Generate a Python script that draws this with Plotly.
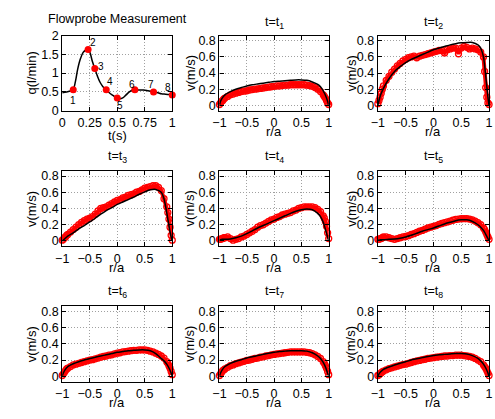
import plotly.graph_objects as go

W, H = 495, 419
FONT = "Liberation Sans, Arial, Helvetica, sans-serif"

# ---------------- data ----------------
flow_t = [0, 0.04, 0.08, 0.10, 0.12, 0.14, 0.165, 0.19, 0.215, 0.237, 0.255, 0.275, 0.296, 0.32,
          0.345, 0.37, 0.40, 0.43, 0.46, 0.49, 0.52, 0.55, 0.58, 0.61, 0.64, 0.66, 0.70, 0.74,
          0.78, 0.83, 0.87, 0.90, 0.94, 0.97, 1.0]
flow_q = [0.48, 0.50, 0.53, 0.56, 0.78, 1.10, 1.38, 1.55, 1.62, 1.65, 1.52, 1.30, 1.12, 0.92,
          0.75, 0.64, 0.56, 0.47, 0.41, 0.35, 0.32, 0.34, 0.42, 0.50, 0.55, 0.56, 0.55, 0.55,
          0.53, 0.50, 0.48, 0.45, 0.44, 0.43, 0.42]

pt_t = [0.10, 0.235, 0.296, 0.40, 0.50, 0.66, 0.83, 1.0]
pt_q = [0.56, 1.63, 1.12, 0.56, 0.34, 0.56, 0.50, 0.42]
pt_labels = ["1", "2", "3", "4", "5", "6", "7", "8"]

r_meas = [-1, -0.98, -0.96, -0.94, -0.92, -0.9, -0.85, -0.8, -0.75, -0.7, -0.65, -0.6, -0.55,
          -0.5, -0.45, -0.4, -0.35, -0.3, -0.25, -0.2, -0.15, -0.1, -0.05, 0, 0.05, 0.1, 0.15,
          0.2, 0.25, 0.3, 0.35, 0.4, 0.45, 0.5, 0.55, 0.6, 0.65, 0.7, 0.75, 0.8, 0.85, 0.9,
          0.92, 0.94, 0.96, 0.98, 1.0]
r_model = [-1, -0.98, -0.95, -0.9, -0.8, -0.7, -0.6, -0.5, -0.4, -0.3, -0.2, -0.1, 0, 0.1,
           0.2, 0.3, 0.4, 0.5, 0.6, 0.7, 0.8, 0.85, 0.9, 0.95, 0.98, 1.0]

v_meas_t1 = [0.01, 0.03, 0.05, 0.06, 0.08, 0.09, 0.11, 0.13, 0.14, 0.15, 0.16, 0.17, 0.175,
             0.18, 0.19, 0.195, 0.2, 0.205, 0.21, 0.215, 0.22, 0.225, 0.23, 0.235, 0.24, 0.24,
             0.245, 0.25, 0.25, 0.255, 0.255, 0.255, 0.255, 0.255, 0.255, 0.25, 0.245, 0.235,
             0.22, 0.2, 0.17, 0.13, 0.11, 0.09, 0.06, 0.03, 0.01]
v_meas_t2 = [0.02, 0.06, 0.10, 0.15, 0.20, 0.24, 0.31, 0.36, 0.41, 0.45, 0.49, 0.52, 0.55,
             0.57, 0.59, 0.60, 0.61, 0.59, 0.61, 0.62, 0.63, 0.64, 0.65, 0.66, 0.67, 0.68,
             0.68, 0.65, 0.69, 0.70, 0.71, 0.71, 0.64, 0.71, 0.73, 0.72, 0.70, 0.71, 0.70,
             0.69, 0.66, 0.60, 0.42, 0.22, 0.10, 0.03, 0.01]
v_meas_t3 = [0.01, 0.02, 0.04, 0.05, 0.07, 0.08, 0.11, 0.14, 0.17, 0.20, 0.23, 0.25, 0.27,
             0.28, 0.30, 0.33, 0.37, 0.40, 0.41, 0.42, 0.44, 0.46, 0.48, 0.50, 0.51, 0.53,
             0.54, 0.56, 0.57, 0.58, 0.60, 0.61, 0.63, 0.65, 0.66, 0.67, 0.68, 0.68, 0.66,
             0.62, 0.52, 0.42, 0.35, 0.27, 0.17, 0.07, 0.01]
v_meas_t4 = [0.02, 0.02, 0.03, 0.03, 0.04, 0.04, 0.05, 0.03, 0.01, 0.02, 0.03, 0.05, 0.06,
             0.08, 0.10, 0.12, 0.14, 0.17, 0.19, 0.20, 0.22, 0.24, 0.26, 0.27, 0.29, 0.30,
             0.32, 0.33, 0.34, 0.35, 0.37, 0.38, 0.40, 0.41, 0.42, 0.42, 0.42, 0.42, 0.41,
             0.39, 0.36, 0.31, 0.28, 0.24, 0.18, 0.10, 0.03]
v_meas_t5 = [0.02, 0.02, 0.03, 0.03, 0.04, 0.05, 0.05, 0.04, 0.03, 0.02, 0.03, 0.04, 0.05,
             0.055, 0.065, 0.08, 0.09, 0.105, 0.12, 0.13, 0.145, 0.16, 0.17, 0.18, 0.19,
             0.205, 0.215, 0.225, 0.235, 0.245, 0.255, 0.265, 0.27, 0.275, 0.275, 0.275,
             0.27, 0.26, 0.245, 0.225, 0.2, 0.16, 0.14, 0.11, 0.08, 0.05, 0.02]
v_meas_t6 = [0.01, 0.03, 0.05, 0.07, 0.09, 0.10, 0.12, 0.14, 0.15, 0.16, 0.17, 0.18, 0.19,
             0.20, 0.205, 0.215, 0.225, 0.235, 0.245, 0.25, 0.26, 0.265, 0.275, 0.285, 0.29,
             0.30, 0.305, 0.31, 0.315, 0.32, 0.32, 0.325, 0.325, 0.325, 0.32, 0.31, 0.30,
             0.285, 0.27, 0.25, 0.225, 0.18, 0.16, 0.13, 0.10, 0.06, 0.02]
v_meas_t7 = [0.01, 0.03, 0.05, 0.07, 0.08, 0.09, 0.11, 0.13, 0.14, 0.155, 0.165, 0.175, 0.185,
             0.195, 0.20, 0.21, 0.22, 0.225, 0.235, 0.24, 0.25, 0.255, 0.265, 0.27, 0.275,
             0.28, 0.285, 0.29, 0.295, 0.30, 0.30, 0.30, 0.30, 0.30, 0.30, 0.295, 0.29, 0.28,
             0.265, 0.245, 0.22, 0.18, 0.16, 0.13, 0.10, 0.06, 0.02]
v_meas_t8 = [0.01, 0.02, 0.03, 0.045, 0.055, 0.065, 0.08, 0.095, 0.105, 0.115, 0.125, 0.135,
             0.145, 0.15, 0.16, 0.17, 0.18, 0.19, 0.195, 0.205, 0.21, 0.22, 0.225, 0.23,
             0.235, 0.24, 0.245, 0.25, 0.25, 0.255, 0.255, 0.26, 0.26, 0.26, 0.255, 0.25,
             0.245, 0.235, 0.22, 0.20, 0.18, 0.14, 0.12, 0.10, 0.07, 0.04, 0.01]

v_model_t1 = [0, 0.05, 0.09, 0.13, 0.17, 0.20, 0.22, 0.24, 0.255, 0.265, 0.275, 0.285, 0.295,
              0.30, 0.305, 0.31, 0.315, 0.315, 0.31, 0.29, 0.26, 0.23, 0.18, 0.11, 0.05, 0]
v_model_t2 = [0, 0.06, 0.13, 0.21, 0.33, 0.42, 0.48, 0.53, 0.57, 0.60, 0.63, 0.66, 0.69,
              0.71, 0.73, 0.75, 0.765, 0.775, 0.78, 0.78, 0.75, 0.71, 0.60, 0.30, 0.10, 0]
v_model_t3 = [0, 0.01, 0.03, 0.06, 0.10, 0.15, 0.19, 0.235, 0.28, 0.33, 0.375, 0.41, 0.45,
              0.48, 0.51, 0.54, 0.575, 0.605, 0.63, 0.635, 0.60, 0.52, 0.35, 0.15, 0.05, 0]
v_model_t4 = [0.01, 0.015, 0.02, 0.02, 0.025, 0.04, 0.06, 0.09, 0.125, 0.16, 0.19, 0.22, 0.25,
              0.28, 0.31, 0.34, 0.365, 0.385, 0.395, 0.385, 0.34, 0.30, 0.23, 0.12, 0.05, 0]
v_model_t5 = [0.01, 0.01, 0.015, 0.015, 0.02, 0.025, 0.035, 0.05, 0.07, 0.095, 0.12, 0.14,
              0.16, 0.185, 0.21, 0.23, 0.25, 0.26, 0.26, 0.24, 0.20, 0.17, 0.13, 0.07, 0.03, 0]
v_model_t6 = [0, 0.04, 0.08, 0.12, 0.155, 0.18, 0.20, 0.22, 0.235, 0.25, 0.265, 0.28, 0.295,
              0.305, 0.315, 0.32, 0.325, 0.325, 0.315, 0.28, 0.22, 0.19, 0.15, 0.09, 0.04, 0]
v_model_t7 = [0, 0.04, 0.08, 0.12, 0.16, 0.185, 0.205, 0.225, 0.24, 0.255, 0.27, 0.285, 0.295,
              0.305, 0.31, 0.315, 0.315, 0.315, 0.31, 0.29, 0.25, 0.22, 0.17, 0.10, 0.04, 0]
v_model_t8 = [0, 0.03, 0.055, 0.085, 0.115, 0.14, 0.16, 0.18, 0.20, 0.215, 0.23, 0.245, 0.255,
              0.265, 0.27, 0.275, 0.28, 0.28, 0.275, 0.255, 0.22, 0.19, 0.15, 0.09, 0.04, 0]

v_meas = [v_meas_t1, v_meas_t2, v_meas_t3, v_meas_t4, v_meas_t5, v_meas_t6, v_meas_t7, v_meas_t8]
v_model = [v_model_t1, v_model_t2, v_model_t3, v_model_t4, v_model_t5, v_model_t6, v_model_t7,
           v_model_t8]
panel_titles = ["Flowprobe Measurement"] + ["t=t<sub>%d</sub>" % i for i in range(1, 9)]

flow_ticks = [0, 0.25, 0.5, 0.75, 1]
q_ticks = [0, 0.5, 1, 1.5, 2]
r_ticks = [-1, -0.5, 0, 0.5, 1]
v_ticks = [0, 0.2, 0.4, 0.6, 0.8]

# ---------------- layout geometry (pixels) ----------------
cols_px = [(56.5, 169.0), (217.3, 329.0), (379.3, 493.0)]
rows_px = [(29.5, 107.3), (169.3, 247.7), (309.3, 387.7)]
ylab_x = [25, 187, 352]
title_y = [(12, 17), (155, 155), (295, 295)]
xlab_y = [(132.5, 128.5), (269.5, 269.5), (409.5, 409.5)]


def px(x):
    return x / W


def py(y):
    return 1 - y / H


fig = go.Figure()

axis_common = dict(
    showline=True, linecolor="black", linewidth=1.3, mirror="ticks",
    ticks="inside", ticklen=4, tickcolor="black", tickwidth=1,
    showgrid=True, gridcolor="#a0a0a0", griddash="1px,2px", gridwidth=1,
    zeroline=False, tickfont=dict(size=12.5, color="black", family=FONT),
)

annotations = []
for k in range(9):
    row, col = divmod(k, 3)
    xa = "x" if k == 0 else "x%d" % (k + 1)
    ya = "y" if k == 0 else "y%d" % (k + 1)
    xkey = "xaxis" if k == 0 else "xaxis%d" % (k + 1)
    ykey = "yaxis" if k == 0 else "yaxis%d" % (k + 1)
    x0, x1 = cols_px[col]
    y0, y1 = rows_px[row]
    if k == 0:
        xr, xt = [0, 1], flow_ticks
        yr, yt = [0, 2], q_ticks
    else:
        xr, xt = [-1, 1], r_ticks
        yr, yt = [-0.067, 0.866], v_ticks
    fig.layout[xkey] = dict(axis_common, domain=[px(x0), px(x1)], range=xr,
                            tickvals=xt, anchor=ya)
    fig.layout[ykey] = dict(axis_common, domain=[py(y1), py(y0)], range=yr,
                            tickvals=yt, anchor=xa)

    if k == 0:
        fig.add_trace(go.Scatter(x=flow_t, y=flow_q, mode="lines", xaxis=xa, yaxis=ya,
                                 line=dict(color="black", width=1.5, shape="spline"),
                                 showlegend=False, cliponaxis=False))
        fig.add_trace(go.Scatter(x=pt_t, y=pt_q, mode="markers", xaxis=xa, yaxis=ya,
                                 marker=dict(color="#ff0000", size=7),
                                 showlegend=False, cliponaxis=False))
    else:
        fig.add_trace(go.Scatter(x=r_meas, y=v_meas[k - 1], mode="markers+lines",
                                 xaxis=xa, yaxis=ya,
                                 line=dict(color="#ff0000", width=4),
                                 marker=dict(symbol="circle-open", color="#ff0000", size=6,
                                             line=dict(width=1.3)),
                                 showlegend=False, cliponaxis=False))
        fig.add_trace(go.Scatter(x=r_model, y=v_model[k - 1], mode="lines",
                                 xaxis=xa, yaxis=ya,
                                 line=dict(color="black", width=1.5, shape="spline",
                                           smoothing=0.6),
                                 showlegend=False, cliponaxis=False))

    # titles and axis labels
    ty = title_y[row][0] if k == 0 else title_y[row][1]
    annotations.append(dict(text=panel_titles[k], x=px((x0 + x1) / 2), y=py(ty),
                            xref="paper", yref="paper", showarrow=False,
                            font=dict(size=12.5, family=FONT, color="black"),
                            xanchor="center", yanchor="middle"))
    xl = "t(s)" if k == 0 else "r/a"
    xly = xlab_y[row][0] if k == 0 else xlab_y[row][1]
    annotations.append(dict(text=xl, x=px((x0 + x1) / 2), y=py(xly),
                            xref="paper", yref="paper", showarrow=False,
                            font=dict(size=13, family=FONT, color="black"),
                            xanchor="center", yanchor="middle"))
    yl = "q(l/min)" if k == 0 else "v(m/s)"
    annotations.append(dict(text=yl, x=px(ylab_x[col]), y=py((y0 + y1) / 2),
                            xref="paper", yref="paper", showarrow=False, textangle=-90,
                            font=dict(size=13, family=FONT, color="black"),
                            xanchor="center", yanchor="middle"))

# point labels on the flow curve
label_shift = [(0, -11), (5, 7), (6, 2), (3.5, 8), (3, -8), (-3, 5.5), (-3, 7), (-4, 7.5)]
for i, lab in enumerate(pt_labels):
    annotations.append(dict(text=lab, x=pt_t[i], y=pt_q[i], xref="x", yref="y",
                            showarrow=False, xshift=label_shift[i][0],
                            yshift=label_shift[i][1],
                            font=dict(size=10, family=FONT, color="black")))

fig.update_layout(width=W, height=H, margin=dict(l=0, r=0, t=0, b=0),
                  paper_bgcolor="white", plot_bgcolor="white",
                  annotations=annotations, font=dict(family=FONT, color="black"))

fig.write_html("out.html", config={"displayModeBar": False},
               post_script="document.body.style.margin='0';document.body.style.overflow='hidden';")
